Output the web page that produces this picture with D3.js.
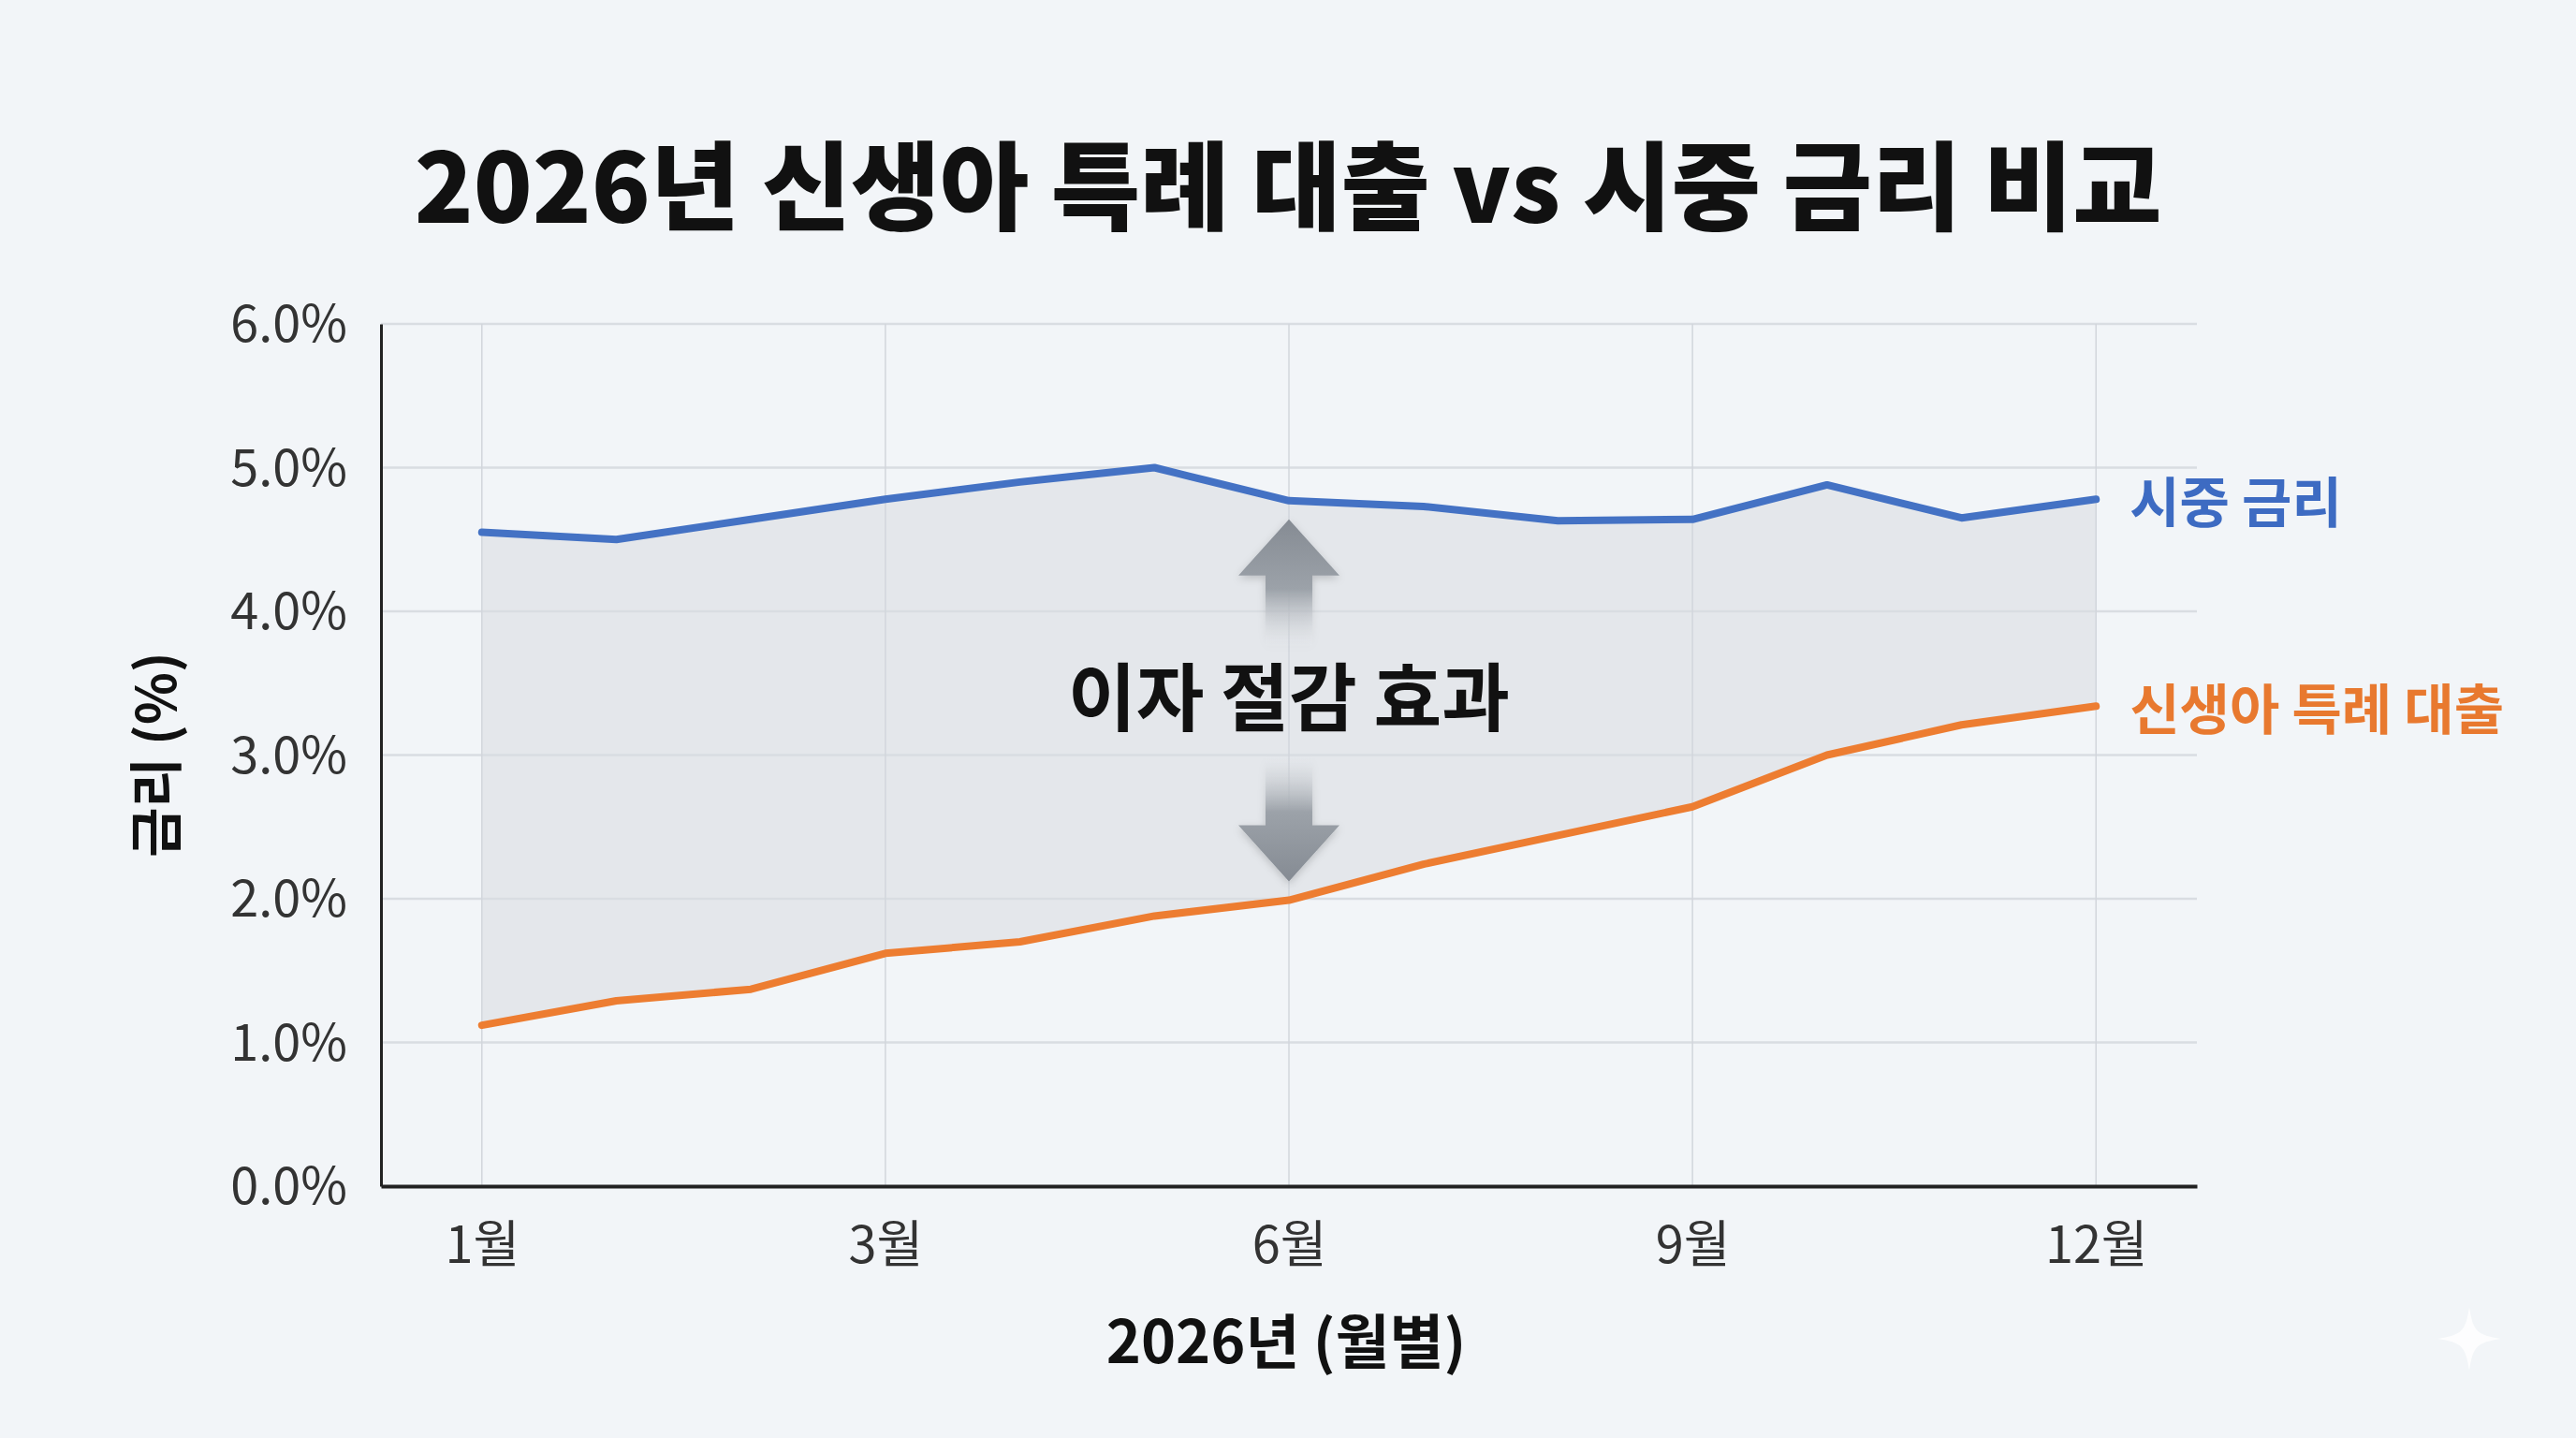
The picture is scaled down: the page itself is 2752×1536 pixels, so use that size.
<!DOCTYPE html>
<html>
<head>
<meta charset="utf-8">
<script src="https://cdn.jsdelivr.net/npm/d3@7"></script>
<style>
  html, body { margin: 0; padding: 0; background: #f2f5f8; }
  svg { display: block; }
  text { font-family: "Noto Sans CJK KR", "Noto Sans", sans-serif; }
</style>
</head>
<body>
<div id="chart"></div>
<script>
// 월별 데이터 (13개 지점, 눈금은 1/3/6/9/12월)
const pointIndex = [0, 1, 2, 3, 4, 5, 6, 7, 8, 9, 10, 11, 12];
const marketRate = [4.55, 4.50, 4.64, 4.78, 4.90, 5.00, 4.77, 4.73, 4.63, 4.64, 4.88, 4.65, 4.78];
const newbornLoan = [1.12, 1.29, 1.37, 1.62, 1.70, 1.88, 1.99, 2.24, 2.44, 2.64, 3.00, 3.21, 3.34];
const xTickIndex = [0, 3, 6, 9, 12];
const xTickLabels = ["1월", "3월", "6월", "9월", "12월"];
const yTicks = [0, 1, 2, 3, 4, 5, 6];

const titleText = "2026년 신생아 특례 대출 vs 시중 금리 비교";
const xTitle = "2026년 (월별)";
const yTitle = "금리 (%)";
const seriesNames = ["시중 금리", "신생아 특례 대출"];
const annotationText = "이자 절감 효과";

const width = 2752, height = 1536;
const margin = { top: 346, right: 405, bottom: 269, left: 407 };

const svg = d3.select("#chart").append("svg")
    .attr("width", width)
    .attr("height", height);

svg.append("rect").attr("width", width).attr("height", height).attr("fill", "#f2f5f8");

const defs = svg.append("defs");

// 화살표 그라데이션
const gradUp = defs.append("linearGradient").attr("id", "gradUp")
    .attr("x1", 0).attr("y1", 0).attr("x2", 0).attr("y2", 1);
gradUp.append("stop").attr("offset", "0%").attr("stop-color", "#858b93");
gradUp.append("stop").attr("offset", "55%").attr("stop-color", "#9ca2a9");
gradUp.append("stop").attr("offset", "100%").attr("stop-color", "#e4e7eb").attr("stop-opacity", 0);

const gradDown = defs.append("linearGradient").attr("id", "gradDown")
    .attr("x1", 0).attr("y1", 1).attr("x2", 0).attr("y2", 0);
gradDown.append("stop").attr("offset", "0%").attr("stop-color", "#858b93");
gradDown.append("stop").attr("offset", "55%").attr("stop-color", "#9ca2a9");
gradDown.append("stop").attr("offset", "100%").attr("stop-color", "#e4e7eb").attr("stop-opacity", 0);

defs.append("filter").attr("id", "shadow")
    .attr("x", "-50%").attr("y", "-20%").attr("width", "200%").attr("height", "140%")
  .append("feDropShadow")
    .attr("dx", 0).attr("dy", 3).attr("stdDeviation", 4)
    .attr("flood-color", "#000").attr("flood-opacity", 0.18);

const x = d3.scaleLinear()
    .domain([-0.75, 12.75])
    .range([margin.left, width - margin.right]);

const y = d3.scaleLinear()
    .domain([0, 6])
    .range([height - margin.bottom, margin.top]);

// 제목
svg.append("text")
    .attr("x", 1376)
    .attr("y", 193)
    .attr("text-anchor", "middle")
    .attr("dominant-baseline", "central")
    .attr("font-size", 103.5)
    .attr("font-weight", 900)
    .attr("fill", "#111")
    .text(titleText);

// 격자
const grid = svg.append("g");
grid.selectAll("line.h")
    .data(yTicks)
    .enter().append("line")
    .attr("class", "h")
    .attr("x1", x.range()[0])
    .attr("x2", x.range()[1])
    .attr("y1", d => y(d))
    .attr("y2", d => y(d))
    .attr("stroke", "#d9dde2")
    .attr("stroke-width", 2.5);

grid.selectAll("line.v")
    .data(xTickIndex)
    .enter().append("line")
    .attr("class", "v")
    .attr("x1", d => x(d))
    .attr("x2", d => x(d))
    .attr("y1", y(6))
    .attr("y2", y(0))
    .attr("stroke", "#d6dae0")
    .attr("stroke-width", 1.5);

// 두 선 사이 영역
const area = d3.area()
    .x((d, i) => x(pointIndex[i]))
    .y0((d, i) => y(newbornLoan[i]))
    .y1((d, i) => y(marketRate[i]));

svg.append("path")
    .datum(pointIndex)
    .attr("d", area)
    .attr("fill", "#e3e6ea")
    .attr("fill-opacity", 0.95);

// 세로 격자를 영역 위에 다시
grid.raise();
grid.selectAll("line.v").attr("stroke", "#d2d6dc");

// 축
const yAxis = d3.axisLeft(y)
    .tickValues(yTicks)
    .tickSize(0)
    .tickPadding(36)
    .tickFormat(d => d.toFixed(1) + "%");

const gy = svg.append("g")
    .attr("transform", `translate(${margin.left},0)`)
    .call(yAxis);
gy.select(".domain").attr("stroke", "#222").attr("stroke-width", 3);
gy.selectAll("text")
    .attr("font-size", 54)
    .attr("fill", "#333")
    .attr("font-family", "Lato, 'Noto Sans', sans-serif")
    .attr("dy", "0.35em");

const xAxis = d3.axisBottom(x)
    .tickValues(xTickIndex)
    .tickSize(0)
    .tickPadding(44)
    .tickFormat((d, i) => xTickLabels[i]);

const gx = svg.append("g")
    .attr("transform", `translate(0,${height - margin.bottom})`)
    .call(xAxis);
gx.select(".domain").attr("stroke", "#222").attr("stroke-width", 4);
gx.selectAll("text")
    .attr("font-size", 54)
    .attr("fill", "#333");

// 축 제목
svg.append("text")
    .attr("x", 1374)
    .attr("y", 1428)
    .attr("text-anchor", "middle")
    .attr("dominant-baseline", "central")
    .attr("font-size", 63)
    .attr("font-weight", 700)
    .attr("fill", "#111")
    .text(xTitle);

svg.append("text")
    .attr("transform", "translate(163,806) rotate(-90)")
    .attr("text-anchor", "middle")
    .attr("dominant-baseline", "central")
    .attr("font-size", 58)
    .attr("font-weight", 700)
    .attr("fill", "#111")
    .text(yTitle);

// 선
const colors = ["#4472c4", "#ed7d31"];
const labelColors = ["#3d6bc2", "#e8792f"];
const seriesData = [marketRate, newbornLoan];

const line = d3.line()
    .x((d, i) => x(pointIndex[i]))
    .y(d => y(d));

svg.append("g")
    .selectAll("path")
    .data(seriesData)
    .enter().append("path")
    .attr("d", line)
    .attr("fill", "none")
    .attr("stroke", (d, i) => colors[i])
    .attr("stroke-width", 8)
    .attr("stroke-linejoin", "round")
    .attr("stroke-linecap", "round");

// 시리즈 라벨
svg.append("g")
    .selectAll("text")
    .data(seriesData)
    .enter().append("text")
    .attr("x", d => x(pointIndex[pointIndex.length - 1]) + 36)
    .attr("y", d => y(d[d.length - 1]))
    .attr("dominant-baseline", "central")
    .attr("font-size", 58)
    .attr("font-weight", 700)
    .attr("fill", (d, i) => labelColors[i])
    .text((d, i) => seriesNames[i]);

// 이자 절감 효과 화살표
const ax = x(6);
const topTip = y(marketRate[6]) + 20;
const botTip = y(newbornLoan[6]) - 20;
const headW = 54, headH = 60, shaftW = 25, shaftLen = 75;

const arrows = svg.append("g").attr("filter", "url(#shadow)");
arrows.append("path")
    .attr("d", `M${ax},${topTip} L${ax + headW},${topTip + headH} L${ax + shaftW},${topTip + headH}
        L${ax + shaftW},${topTip + headH + shaftLen} L${ax - shaftW},${topTip + headH + shaftLen}
        L${ax - shaftW},${topTip + headH} L${ax - headW},${topTip + headH} Z`)
    .attr("fill", "url(#gradUp)");
arrows.append("path")
    .attr("d", `M${ax},${botTip} L${ax + headW},${botTip - headH} L${ax + shaftW},${botTip - headH}
        L${ax + shaftW},${botTip - headH - shaftLen} L${ax - shaftW},${botTip - headH - shaftLen}
        L${ax - shaftW},${botTip - headH} L${ax - headW},${botTip - headH} Z`)
    .attr("fill", "url(#gradDown)");

svg.append("text")
    .attr("x", ax)
    .attr("y", 740)
    .attr("text-anchor", "middle")
    .attr("dominant-baseline", "central")
    .attr("font-size", 79)
    .attr("font-weight", 700)
    .attr("fill", "#111")
    .text(annotationText);

// 오른쪽 아래 반짝이 표시
svg.append("path")
    .attr("transform", "translate(2638,1430)")
    .attr("d", "M0,-34 C4,-8 8,-4 34,0 C8,4 4,8 0,34 C-4,8 -8,4 -34,0 C-8,-4 -4,-8 0,-34 Z")
    .attr("fill", "#ffffff")
    .attr("opacity", 0.8);
</script>
</body>
</html>
